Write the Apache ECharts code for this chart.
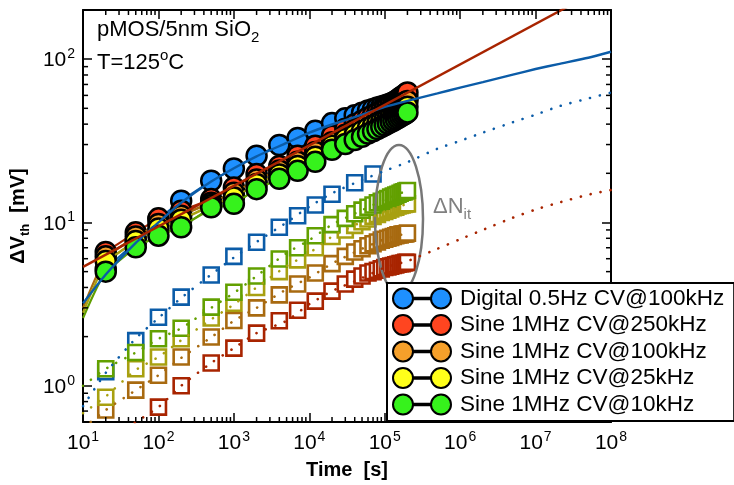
<!DOCTYPE html>
<html>
<head>
<meta charset="utf-8">
<script src="https://cdn.jsdelivr.net/npm/echarts@6/dist/echarts.min.js"></script>
<style>
html, body { margin: 0; padding: 0; background: #fff; }
#main { width: 734px; height: 485px; }
</style>
</head>
<body>
<div id="main"></div>
<script>
var FONT = '"Liberation Sans", Arial, Helvetica, sans-serif';

// stress times [s]
var tStress = [20, 50, 100, 200, 500, 1000, 2000, 4000, 7000, 12000, 20000, 30000, 40000, 50000, 60000,
  70000, 80000, 90000, 100000, 110000, 120000, 130000, 140000, 150000, 160000, 170000, 180000, 190000, 200000];
var tBlueNit = [20, 50, 100, 200, 500, 1000, 2000, 4000, 7000, 12000, 20000, 40000, 70000];
var tRedNit = tStress.slice(2);

// dVth [mV], circles
var blueDV = [5.2, 7.6, 10.5, 13.6, 18.0, 21.4, 25.6, 29.8, 32.9, 36.5, 40.6, 43.5, 45.4, 47.0, 48.5, 49.5, 50.5, 51.3, 52.0, 52.8, 53.5, 54.2, 54.8, 55.4, 56.0, 56.5, 57.0, 57.5, 58.0];
var redDV = [6.6, 8.7, 10.6, 11.8, 13.9, 16.4, 19.8, 22.2, 25.6, 29.5, 34.0, 37.5, 40.0, 42.0, 44.0, 45.5, 47.0, 48.5, 50.0, 51.5, 53.0, 54.3, 55.5, 56.7, 58.0, 59.0, 60.2, 61.3, 62.5];
var orangeDV = [6.2, 8.2, 9.8, 11.0, 13.2, 15.2, 18.3, 20.8, 23.5, 27.0, 31.0, 34.5, 37.0, 39.0, 40.8, 42.3, 43.7, 45.0, 46.2, 47.3, 48.4, 49.4, 50.4, 51.3, 52.2, 53.0, 53.8, 54.6, 55.4];
var yellowDV = [5.8, 7.7, 9.2, 10.4, 12.8, 14.2, 17.2, 19.7, 22.2, 25.3, 29.5, 32.4, 34.5, 36.3, 37.9, 39.3, 40.5, 41.7, 42.8, 43.8, 44.8, 45.7, 46.5, 47.4, 48.2, 49.0, 49.7, 50.4, 51.1];
var greenDV = [5.0, 7.05, 8.3, 9.35, 12.4, 13.0, 16.0, 18.5, 20.7, 23.5, 27.9, 30.2, 32.0, 33.5, 35.0, 36.2, 37.3, 38.4, 39.4, 40.3, 41.2, 42.0, 42.8, 43.6, 44.4, 45.1, 45.8, 46.5, 47.2];

// dNit part, squares
var blueNit = [1.22, 1.89, 2.63, 3.49, 4.77, 6.2, 7.57, 9.34, 11.0, 12.8, 14.9, 17.5, 19.8];
var greenNit = [1.27, 1.6, 1.94, 2.25, 3.03, 3.74, 4.7, 5.98, 7.0, 8.3, 9.7, 10.6, 11.3, 11.9, 12.4, 12.8, 13.2, 13.5, 13.8, 14.0, 14.3, 14.5, 14.7, 14.9, 15.1, 15.3, 15.4, 15.6, 15.7];
var yellowNit = [0.85, 1.27, 1.5, 1.94, 2.6, 3.2, 4.0, 5.0, 5.9, 7.0, 8.2, 9.0, 9.6, 10.1, 10.5, 10.9, 11.2, 11.5, 11.7, 11.9, 12.1, 12.3, 12.4, 12.6, 12.7, 12.8, 12.9, 13.0, 13.0];
var orangeNit = [0.71, 0.94, 1.16, 1.5, 1.99, 2.51, 3.0, 3.6, 4.2, 4.9, 5.6, 6.2, 6.6, 6.9, 7.2, 7.4, 7.6, 7.8, 7.9, 8.0, 8.1, 8.2, 8.3, 8.4, 8.4, 8.5, 8.5, 8.5, 8.6];
var redNit = [0.74, 1.0, 1.38, 1.7, 2.1, 2.5, 2.9, 3.3, 3.8, 4.2, 4.5, 4.7, 4.9, 5.0, 5.1, 5.2, 5.3, 5.35, 5.4, 5.45, 5.5, 5.55, 5.6, 5.6, 5.65, 5.7, 5.7];

// model fits, solid (dVth) and dotted (dNit)
var tFitLong = [10, 20, 50, 100, 200, 500, 1e3, 2e3, 5e3, 1e4, 2e4, 5e4, 1e5, 2e5, 5e5, 1e6, 2e6, 5e6, 1e7, 2e7, 5e7, 1e8];
var tFitShort = [10, 20, 50, 100, 200, 500, 1e3, 2e3, 5e3, 1e4, 2e4, 5e4, 1e5, 2e5];
var tFitRed = [10, 1e8];
var blueFit = [3.2, 4.8, 7.5, 10, 13.2, 17.8, 21.5, 25.4, 30.7, 35.5, 39.8, 45.7, 51, 55.6, 61.7, 67, 72.4, 80.4, 87, 93.3, 102, 111];
var redFit = [5.35, 291];
var orangeFit = [3.0, 6.0, 8.2, 9.8, 11.1, 13.3, 15.3, 18.3, 22, 25.5, 31, 39, 46.2, 55.4];
var yellowFit = [2.8, 5.6, 7.7, 9.2, 10.4, 12.6, 14.3, 17.2, 20.8, 24, 29.5, 36.3, 42.8, 51.1];
var greenFit = [2.6, 5.0, 7.05, 8.3, 9.5, 12.0, 13.1, 16.0, 19.5, 22.5, 27.9, 33.5, 39.4, 47.2];
var blueNitFit = [0.75, 1.2, 1.95, 2.6, 3.45, 4.8, 6.1, 7.6, 10, 12.5, 15.1, 18.2, 20.7, 23.4, 28.3, 31.6, 35.5, 41.1, 45.7, 51.3, 57.5, 62.4];
var redNitFit = [0.38, 0.47, 0.6, 0.74, 1.0, 1.38, 1.7, 2.1, 2.5, 3.16, 3.8, 4.57, 5.3, 5.8, 6.9, 7.9, 9.0, 10.7, 12.0, 13.2, 14.8, 15.8];
var greenNitFit = [1.0, 1.27, 1.6, 1.94, 2.25, 3.0, 3.7, 4.7, 6.5, 7.8, 9.7, 11.9, 13.8, 15.7];
var yellowNitFit = [0.68, 0.86, 1.25, 1.5, 1.9, 2.55, 3.15, 4.0, 5.4, 6.5, 8.2, 10.1, 11.7, 13.0];
var orangeNitFit = [0.55, 0.71, 0.94, 1.16, 1.48, 1.98, 2.5, 3.0, 3.9, 4.6, 5.6, 6.9, 7.9, 8.6];

var names = ['Digital 0.5Hz CV@100kHz', 'Sine 1MHz CV@250kHz', 'Sine 1MHz CV@100kHz', 'Sine 1MHz CV@25kHz', 'Sine 1MHz CV@10kHz'];
var fillCol = ['#1e90ff', '#ff4520', '#f6a02a', '#ffff1a', '#36f21c'];
var darkCol = ['#0b5ca8', '#a82400', '#a86a10', '#a8a010', '#5f9e00'];

var X_MIN = 10, X_MAX = 1e8, Y_MIN = 0.6, Y_MAX = 200;

// log minor tick positions (2..9 in each decade)
var xMinor = [];
for (var d = 1; d < 8; d++) for (var m = 2; m <= 9; m++) xMinor.push(m * Math.pow(10, d));
var yMinor = [0.7, 0.8, 0.9, 2, 3, 4, 5, 6, 7, 8, 9, 20, 30, 40, 50, 60, 70, 80, 90];

function zip(t, v) {
  return v.map(function (y, i) { return [t[i], y]; });
}

function powLabel(v) {
  var l = Math.log10(v), e = Math.round(l);
  if (Math.abs(l - e) > 1e-6) return '';
  return '{b|10}{s|' + e + '}';
}

var labelRich = {
  b: { fontSize: 21, fontFamily: FONT, color: '#000', lineHeight: 24, verticalAlign: 'bottom' },
  s: { fontSize: 14, fontFamily: FONT, color: '#000', lineHeight: 24, verticalAlign: 'top', padding: [0, 0, 0, 1] }
};

var ICON = 'path://M0,10a10,10 0 1,0 20,0a10,10 0 1,0 -20,0z M20,9.3h18v1.4h-18z M38,10a10,10 0 1,0 20,0a10,10 0 1,0 -20,0z';

function axisBase(pos, showLabel) {
  return {
    type: 'log',
    logBase: 10,
    position: pos,
    axisLine: { lineStyle: { color: '#000', width: 2 } },
    axisTick: { inside: true, length: 9, lineStyle: { color: '#000', width: 1.5 } },
    axisLabel: { show: showLabel, formatter: powLabel, rich: labelRich, margin: 8 },
    splitLine: { show: false },
    minorTick: { show: false }
  };
}

var xBottom = axisBase('bottom', true);
xBottom.min = X_MIN; xBottom.max = X_MAX;
xBottom.name = 'Time  [s]';
xBottom.nameLocation = 'middle';
xBottom.nameGap = 38;
xBottom.nameTextStyle = { fontSize: 20, fontWeight: 'bold', fontFamily: FONT, color: '#000' };
var xTop = axisBase('top', false);
xTop.min = X_MIN; xTop.max = X_MAX;

var yLeft = axisBase('left', true);
yLeft.min = Y_MIN; yLeft.max = Y_MAX;
yLeft.name = '{a|ΔV}{s|th}{a|  [mV]}';
yLeft.nameLocation = 'middle';
yLeft.nameGap = 41;
yLeft.nameRotate = 90;
yLeft.nameTextStyle = {
  rich: {
    a: { fontSize: 20, fontWeight: 'bold', fontFamily: FONT, color: '#000', lineHeight: 24, verticalAlign: 'top' },
    s: { fontSize: 13, fontWeight: 'bold', fontFamily: FONT, color: '#000', lineHeight: 24, verticalAlign: 'bottom' }
  }
};
var yRight = axisBase('right', false);
yRight.min = Y_MIN; yRight.max = Y_MAX;

var series = [];

// dNit squares + dotted fits
var nitSets = [
  { t: tBlueNit, v: blueNit, fitT: tFitLong, fit: blueNitFit, c: darkCol[0] },
  { t: tRedNit, v: redNit, fitT: tFitLong, fit: redNitFit, c: darkCol[1] },
  { t: tStress, v: orangeNit, fitT: tFitShort, fit: orangeNitFit, c: darkCol[2] },
  { t: tStress, v: yellowNit, fitT: tFitShort, fit: yellowNitFit, c: darkCol[3] },
  { t: tStress, v: greenNit, fitT: tFitShort, fit: greenNitFit, c: '#62a000' }
];
nitSets.forEach(function (s) {
  series.push({
    type: 'line',
    z: 2,
    data: zip(s.t, s.v),
    symbol: 'rect',
    symbolSize: 15,
    lineStyle: { width: 0, opacity: 0 },
    itemStyle: { color: '#fff', borderColor: s.c, borderWidth: 2.6 },
    emphasis: { disabled: true },
    silent: true
  });
});
nitSets.forEach(function (s) {
  series.push({
    type: 'line',
    z: 3,
    data: zip(s.fitT, s.fit),
    smooth: 0.2,
    showSymbol: false,
    lineStyle: { color: s.c, width: 2.6, type: [0.1, 10], cap: 'round' },
    silent: true
  });
});

// solid fits under the circles (orange, yellow, green)
[[orangeFit, 2], [yellowFit, 3], [greenFit, 4]].forEach(function (f) {
  series.push({
    type: 'line',
    z: 4,
    data: zip(tFitShort, f[0]),
    smooth: 0.2,
    showSymbol: false,
    lineStyle: { color: darkCol[f[1]], width: 2.2 },
    silent: true
  });
});

// dVth circles
var dvSets = [blueDV, redDV, orangeDV, yellowDV, greenDV];
dvSets.forEach(function (v, i) {
  series.push({
    name: names[i],
    type: 'line',
    z: 5 + i,
    data: zip(tStress, v),
    symbol: 'circle',
    symbolSize: 20,
    showAllSymbol: true,
    lineStyle: { color: darkCol[i], width: 2 },
    itemStyle: { color: fillCol[i], borderColor: '#000', borderWidth: 2.5 },
    emphasis: { disabled: true }
  });
});

// solid fits over the circles (blue, red)
series.push({
  type: 'line', z: 11, data: zip(tFitLong, blueFit), smooth: 0.2, showSymbol: false,
  lineStyle: { color: darkCol[0], width: 2.4 }, silent: true
});
series.push({
  type: 'line', z: 11, data: zip(tFitRed, redFit), showSymbol: false,
  lineStyle: { color: darkCol[1], width: 2.4 }, silent: true
});

// minor ticks on the box
function tickLine(x1, y1, x2, y2) {
  return { type: 'line', shape: { x1: x1, y1: y1, x2: x2, y2: y2 }, style: { stroke: '#000', lineWidth: 1.5 } };
}
series.push({
  type: 'custom', z: 12, silent: true, clip: false,
  data: xMinor.map(function (v) { return [v, 1]; }),
  encode: { x: 0, y: 1 },
  renderItem: function (params, api) {
    var x = api.value(0);
    var b = api.coord([x, Y_MIN]), t = api.coord([x, Y_MAX]);
    return { type: 'group', children: [tickLine(b[0], b[1], b[0], b[1] - 5), tickLine(t[0], t[1], t[0], t[1] + 5)] };
  }
});
series.push({
  type: 'custom', z: 12, silent: true, clip: false,
  data: yMinor.map(function (v) { return [100, v]; }),
  encode: { x: 0, y: 1 },
  renderItem: function (params, api) {
    var y = api.value(1);
    var l = api.coord([X_MIN, y]), r = api.coord([X_MAX, y]);
    return { type: 'group', children: [tickLine(l[0], l[1], l[0] + 5, l[1]), tickLine(r[0], r[1], r[0] - 5, r[1])] };
  }
});

var option = {
  backgroundColor: '#fff',
  animation: false,
  grid: { left: 78, right: 123, top: 10, bottom: 62, containLabel: false },
  xAxis: [xBottom, xTop],
  yAxis: [yLeft, yRight],
  legend: {
    z: 30,
    orient: 'vertical',
    left: 387,
    top: 283,
    itemWidth: 58,
    itemHeight: 20,
    itemGap: 3.5,
    padding: [4, 10, 5, 5],
    borderColor: '#000',
    borderWidth: 2,
    backgroundColor: '#fff',
    selectedMode: false,
    textStyle: { fontSize: 22.5, fontFamily: FONT, color: '#000', lineHeight: 22, padding: [0, 0, 0, 4] },
    itemStyle: { borderColor: '#000', borderWidth: 2 },
    data: names.map(function (n) { return { name: n, icon: ICON }; })
  },
  graphic: [
    {
      type: 'text', left: 97, top: 19, z: 20,
      style: {
        text: '{a|pMOS/5nm SiO}{s|2}',
        rich: {
          a: { fontSize: 22, fontFamily: FONT, fill: '#000', lineHeight: 26, verticalAlign: 'top' },
          s: { fontSize: 15, fontFamily: FONT, fill: '#000', lineHeight: 26, verticalAlign: 'bottom' }
        }
      }
    },
    {
      type: 'text', left: 97, top: 48, z: 20,
      style: {
        text: '{a|T=125}{s|o}{a|C}',
        rich: {
          a: { fontSize: 22, fontFamily: FONT, fill: '#000', lineHeight: 26, verticalAlign: 'bottom' },
          s: { fontSize: 15, fontFamily: FONT, fill: '#000', lineHeight: 26, verticalAlign: 'top' }
        }
      }
    },
    {
      type: 'text', left: 433, top: 196, z: 20,
      style: {
        text: '{a|ΔN}{s|it}',
        rich: {
          a: { fontSize: 22, fontFamily: FONT, fill: '#808080', lineHeight: 26, verticalAlign: 'top' },
          s: { fontSize: 15, fontFamily: FONT, fill: '#808080', lineHeight: 26, verticalAlign: 'bottom' }
        }
      }
    },
    {
      type: 'ellipse', z: 3,
      shape: { cx: 399, cy: 219, rx: 24, ry: 74 },
      style: { fill: 'none', stroke: '#777', lineWidth: 2.5 }
    }
  ],
  series: series
};

var chart = echarts.init(document.getElementById('main'), null, { renderer: 'canvas' });
chart.setOption(option);
</script>
</body>
</html>
